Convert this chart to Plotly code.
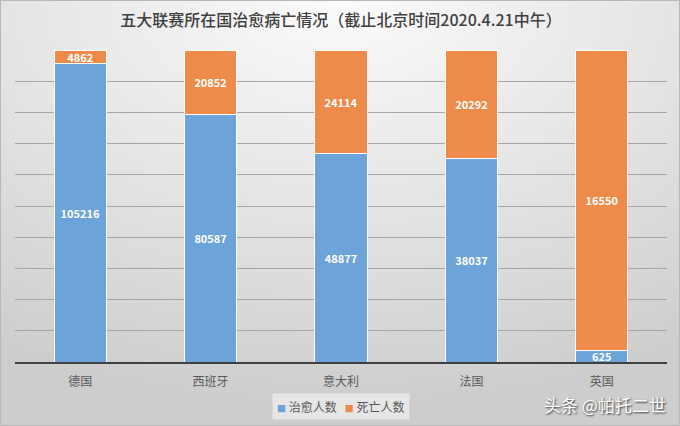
import base64
import plotly.graph_objects as go

countries = ["德国", "西班牙", "意大利", "法国", "英国"]
recovered = [105216, 80587, 48877, 38037, 625]
deaths = [4862, 20852, 24114, 20292, 16550]
series_names = ["治愈人数", "死亡人数"]
title_text = "五大联赛所在国治愈病亡情况（截止北京时间2020.4.21中午）"
watermark = "头条 @帕托二世"

W, H = 680, 426
ML, MR, MT, MB = 15, 13, 50, 64
PW, PH = W - ML - MR, H - MT - MB

FONT = "Noto Sans CJK SC"
BLUE = "#6CA3D8"
ORANGE = "#EE8B4A"
colors = [BLUE, ORANGE]

svg = f"""<svg xmlns='http://www.w3.org/2000/svg' width='{W}' height='{H}' viewBox='0 0 {W} {H}' preserveAspectRatio='none'>
<defs><radialGradient id='g' cx='50%' cy='0%' r='95%' fx='50%' fy='0%'>
<stop offset='0%' stop-color='#fbfbfb'/><stop offset='55%' stop-color='#e3e3e3'/><stop offset='100%' stop-color='#cdcdcd'/>
</radialGradient></defs><rect width='{W}' height='{H}' fill='url(#g)'/>
<rect x='0.5' y='0.5' width='{W-1}' height='{H-1}' fill='none' stroke='#b8b8b8' stroke-width='1'/></svg>"""
src = "data:image/svg+xml;base64," + base64.b64encode(svg.encode()).decode()

fig = go.Figure()
for name, vals, col in zip(series_names, [recovered, deaths], colors):
    fig.add_trace(go.Bar(
        x=countries, y=vals, name=name,
        marker=dict(color=col, line=dict(color="white", width=1)),
        text=[str(v) for v in vals], textposition="inside",
        insidetextanchor="middle", textangle=0, constraintext="none",
        textfont=dict(family=FONT, size=11, color="white", weight="bold"),
        hoverinfo="skip", showlegend=False,
    ))

legend_text = "&nbsp;&nbsp;&nbsp;".join(
    f"<span style='color:{c}; font-size:9px'>■</span> {n}" for n, c in zip(series_names, colors)
)

fig.update_layout(
    width=W, height=H,
    barmode="stack", barnorm="percent", bargap=0.6,
    margin=dict(l=ML, r=MR, t=MT, b=MB, autoexpand=False),
    paper_bgcolor="rgba(0,0,0,0)", plot_bgcolor="rgba(0,0,0,0)",
    title=dict(text=title_text, x=0.5, xref="paper", xanchor="center",
               y=1 - 20 / H, yanchor="middle",
               font=dict(family=FONT, size=16, color="#404040", weight=500)),
    font=dict(family=FONT, color="#595959"),
    images=[dict(source=src, xref="paper", yref="paper",
                 x=-ML / PW, y=1 + MT / PH, sizex=W / PW, sizey=H / PH,
                 xanchor="left", yanchor="top", sizing="stretch", layer="below")],
    annotations=[
        dict(text=legend_text, xref="paper", yref="paper",
             x=(340.5 - ML) / PW, y=-44 / PH, xanchor="center", yanchor="middle",
             showarrow=False, bgcolor="#e6e6e6", borderpad=4,
             font=dict(family=FONT, size=12, color="#595959")),
        dict(text=watermark, xref="paper", yref="paper",
             x=1 + (MR - 12) / PW, y=-42 / PH, xanchor="right", yanchor="middle",
             showarrow=False,
             font=dict(family=FONT, size=17, color="white",
                       shadow="1px 1px 2px #333333")),
    ],
)
fig.update_xaxes(showgrid=False, showline=True, linecolor="#404040", linewidth=2,
                 tickfont=dict(size=12, color="#595959"), ticks="", ticklabelstandoff=8,
                 fixedrange=True)
fig.update_yaxes(range=[0, 100], dtick=10, showgrid=True, gridcolor="#a6a6a6", gridwidth=1,
                 showticklabels=False, zeroline=False, showline=False, ticks="", fixedrange=True)

fig.write_html("out.html")
